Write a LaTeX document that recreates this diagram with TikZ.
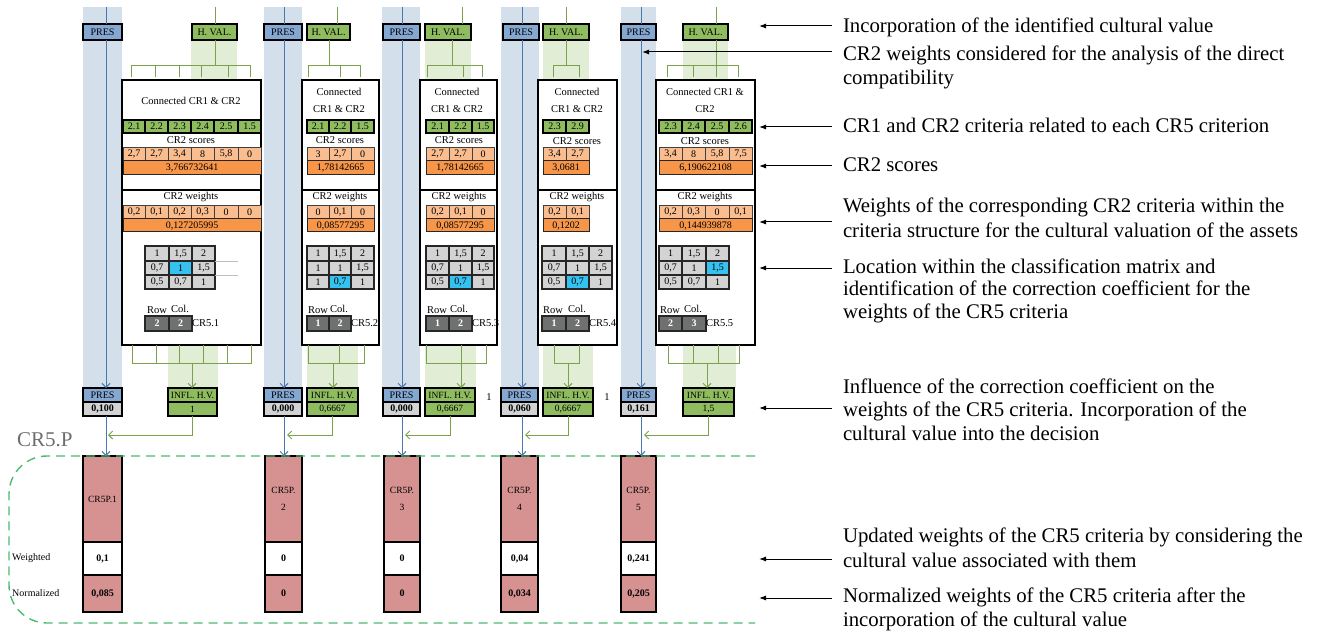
\documentclass[tikz,border=0pt]{standalone}
\usepackage{fontspec}
\setmainfont{Liberation Serif}
\usetikzlibrary{arrows.meta}
\definecolor{bandB}{HTML}{D3DFEA}
\definecolor{lineB}{HTML}{4A78AE}
\definecolor{presB}{HTML}{85A8D3}
\definecolor{gBox}{HTML}{8FBC5F}
\definecolor{gBand}{HTML}{E2EDD6}
\definecolor{gLine}{HTML}{7AA24C}
\definecolor{oLight}{HTML}{F9BD8F}
\definecolor{oDark}{HTML}{F79548}
\definecolor{mGray}{HTML}{D3D3D3}
\definecolor{mBlue}{HTML}{36C2F0}
\definecolor{dGray}{HTML}{6F7070}
\definecolor{cRed}{HTML}{D69191}
\definecolor{dashG}{HTML}{4DBA6E}
\definecolor{labGray}{HTML}{6E6E6E}
\definecolor{vGray}{HTML}{D3D3D3}
\tikzset{
 cellbase/.style={inner sep=0pt, outer sep=0pt, font=\fontsize{10}{12}\selectfont},
 txt/.style={inner sep=0pt, outer sep=0pt, font=\fontsize{10.5}{12.6}\selectfont},
 gcell/.style={cellbase, draw=black, line width=1.1pt, fill=gBox},
 ocell/.style={cellbase, draw=black!75, line width=0.8pt, fill=oLight},
 odcell/.style={cellbase, draw=black!85, line width=1pt, fill=oDark},
 mcell/.style={cellbase, draw=black!85, line width=1.1pt},
 dcell/.style={cellbase, draw=black!85, line width=1.1pt, fill=dGray, text=white, font=\fontsize{10}{12}\selectfont\bfseries},
 presbox/.style={cellbase, draw=black, line width=1.6pt, fill=presB},
 hvalbox/.style={cellbase, draw=black, line width=1.6pt, fill=gBox},
 inflbox/.style={cellbase, draw=black, line width=1.6pt, fill=gBox, font=\fontsize{9.5}{11}\selectfont},
 pvalbox/.style={cellbase, draw=black, line width=1.6pt, fill=vGray, font=\fontsize{10}{12}\selectfont\bfseries},
 mainbox/.style={draw=black, line width=1.8pt, fill=white, inner sep=0pt, outer sep=0pt},
 crtop/.style={cellbase, draw=black, line width=1.6pt, fill=cRed, align=center, font=\fontsize{9.5}{17}\selectfont},
 crval/.style={cellbase, draw=black, line width=1.6pt, fill=cRed, font=\fontsize{10}{12}\selectfont\bfseries},
 crwht/.style={crval, fill=white},
 bline/.style={draw=lineB, line width=1pt},
 barrow/.style={bline, -{Straight Barb[length=4pt,width=8pt]}},
 gline/.style={draw=gLine, line width=1pt},
 garrow/.style={gline, -{Straight Barb[length=4pt,width=8pt]}},
 karrow/.style={draw=black, line width=1pt, -{Latex[length=7pt,width=5pt]}},
 notetext/.style={font=\fontsize{20.8}{24.5}\selectfont, align=left, anchor=base west, inner xsep=11pt, inner ysep=0pt, outer sep=0pt},
 sidelabel/.style={inner sep=0pt, font=\fontsize{10}{12}\selectfont, anchor=west}
}
\newcommand\bx[7]{\node[inner sep=0pt, outer sep=0pt, minimum width={(#5-#3)*1pt}, minimum height={(#6-#4)*1pt}, #2] (#1) at ({(#3+#5)/2},{(#4+#6)/2}) {#7};}
\newcommand\crow[5]{\foreach \xa/\xb/\tx [count=\ci] in {#5}{\bx{#1\ci}{#2}{\xa}{#3}{\xb}{#4}{\tx}}}
\newcommand\mrow[4]{\foreach \xa/\xb/\tx/\st [count=\ci] in {#4}{\bx{#1\ci}{mcell,fill=\st}{\xa}{#2}{\xb}{#3}{\tx}}}
\newcommand\tbr[3]{\draw[gline] (#1,77) -- (#1,66) -- (#2,66) -- (#2,77); \foreach \x in {#3} {\draw[gline] (\x,66) -- (\x,77);}}
\newcommand\bbr[3]{\draw[gline] (#1,345) -- (#1,363) -- (#2,363) -- (#2,345); \foreach \x in {#3} {\draw[gline] (\x,345) -- (\x,363);}}
\begin{document}
\begin{tikzpicture}[x=1pt,y=-1pt]
\useasboundingbox (0,0) rectangle (1325,631);
% ---------- background bands
\fill[bandB] (83,7) rectangle (122,388);
\fill[bandB] (264,7) rectangle (302,388);
\fill[bandB] (382,7) rectangle (420,388);
\fill[bandB] (501,7) rectangle (539,388);
\fill[bandB] (621,7) rectangle (656,388);
\fill[gBand] (191,40) rectangle (237,80);
\fill[gBand] (425,40) rectangle (471,80);
\fill[gBand] (543,40) rectangle (589,80);
\fill[gBand] (683,40) rectangle (728,80);
\fill[gBand] (168,345) rectangle (218,388);
\fill[gBand] (307,345) rectangle (358,388);
\fill[gBand] (425,345) rectangle (476,388);
\fill[gBand] (543,345) rectangle (593,388);
\fill[gBand] (683,345) rectangle (736,388);
% ---------- coordinates
\coordinate (bx1) at (106,7); \coordinate (bx2) at (284,7); \coordinate (bx3) at (402,7);
\coordinate (bx4) at (522,7); \coordinate (bx5) at (641,7);
\coordinate (gt1) at (215,7); \coordinate (gt2) at (337,7); \coordinate (gt3) at (462,7);
\coordinate (gt4) at (566,7); \coordinate (gt5) at (716,7);
\coordinate (gu1) at (215,66); \coordinate (gu2) at (329,66); \coordinate (gu3) at (452,66);
\coordinate (gu4) at (566,66); \coordinate (gu5) at (716,66);
\coordinate (gb1) at (192,363); \coordinate (gb2) at (333,363); \coordinate (gb3) at (461,363);
\coordinate (gb4) at (568,363); \coordinate (gb5) at (707,363);
\coordinate (gm1) at (108,435); \coordinate (gm2) at (287,435); \coordinate (gm3) at (405,435);
\coordinate (gm4) at (525,435); \coordinate (gm5) at (644,435);
\coordinate (yd) at (0,190);
% ---------- top boxes
\bx{pt1}{presbox}{83}{24}{122}{40}{PRES}
\bx{hv1}{hvalbox}{192}{24}{237}{40}{H. VAL.}
\bx{pt2}{presbox}{264}{24}{302}{40}{PRES}
\bx{hv2}{hvalbox}{307}{24}{350}{40}{H. VAL.}
\bx{pt3}{presbox}{383}{24}{420}{40}{PRES}
\bx{hv3}{hvalbox}{425}{24}{471}{40}{H. VAL.}
\bx{pt4}{presbox}{503}{24}{539}{40}{PRES}
\bx{hv4}{hvalbox}{543}{24}{589}{40}{H. VAL.}
\bx{pt5}{presbox}{621}{24}{656}{40}{PRES}
\bx{hv5}{hvalbox}{683}{24}{728}{40}{H. VAL.}
% ---------- bottom boxes
\bx{pb1}{presbox}{83}{388}{122}{402}{PRES}   \bx{pv1}{pvalbox}{83}{402}{122}{416}{0,100}
\bx{il1}{inflbox}{168}{388}{217}{402}{INFL. H.V.} \bx{iv1}{inflbox}{168}{402}{217}{416}{1}
\bx{pb2}{presbox}{264}{388}{302}{402}{PRES}  \bx{pv2}{pvalbox}{264}{402}{302}{416}{0,000}
\bx{il2}{inflbox}{307}{388}{358}{402}{INFL. H.V.} \bx{iv2}{inflbox}{307}{402}{358}{416}{0,6667}
\bx{pb3}{presbox}{383}{388}{420}{402}{PRES}  \bx{pv3}{pvalbox}{383}{402}{420}{416}{0,000}
\bx{il3}{inflbox}{425}{388}{475}{402}{INFL. H.V.} \bx{iv3}{inflbox}{425}{402}{475}{416}{0,6667}
\bx{pb4}{presbox}{501}{388}{538}{402}{PRES}  \bx{pv4}{pvalbox}{501}{402}{538}{416}{0,060}
\bx{il4}{inflbox}{543}{388}{593}{402}{INFL. H.V.} \bx{iv4}{inflbox}{543}{402}{593}{416}{0,6667}
\bx{pb5}{presbox}{621}{388}{656}{402}{PRES}  \bx{pv5}{pvalbox}{621}{402}{656}{416}{0,161}
\bx{il5}{inflbox}{683}{388}{734}{402}{INFL. H.V.} \bx{iv5}{inflbox}{683}{402}{734}{416}{1,5}
\node[txt] (one3) at (489,397) {1};
\node[txt] (one4) at (607,397) {1};
% ---------- main boxes
\bx{mb1}{mainbox}{122}{80}{261}{345}{}
\bx{mb2}{mainbox}{302}{80}{379}{345}{}
\bx{mb3}{mainbox}{420}{80}{497}{345}{}
\bx{mb4}{mainbox}{538}{80}{617}{345}{}
\bx{mb5}{mainbox}{656}{80}{755}{345}{}
\foreach \m in {1,...,5} {\draw[line width=1.8pt] (mb\m.west |- yd) -- (mb\m.east |- yd);}
% column 1
\node[txt] (cn1) at (191,101) {Connected CR1 \& CR2};
\crow{g1-}{gcell}{120}{133}{123/145/2.1,145/168/2.2,168/191/2.3,191/214/2.4,214/238/2.5,238/261/1.5}
\node[txt] (cs1) at (191,140) {CR2 scores};
\crow{s1-}{ocell}{147}{161}{123/145/{2,7},145/168/{2,7},168/191/{3,4},191/214/8,214/238/{5,8},238/261/0}
\bx{S1}{odcell}{123}{161}{261}{175}{3,766732641}
\node[txt] (cw1) at (191,197) {CR2 weights};
\crow{w1-}{ocell}{205}{219}{123/145/{0,2},145/168/{0,1},168/191/{0,2},191/214/{0,3},214/238/0,238/261/0}
\bx{W1}{odcell}{123}{219}{261}{232}{0,127205995}
\mrow{m1a-}{246}{261}{145/169/1/mGray,169/192/{1,5}/mGray,192/215/2/mGray}
\mrow{m1b-}{261}{275}{145/169/{0,7}/mGray,169/192/1/mBlue,192/215/{1,5}/mGray}
\mrow{m1c-}{275}{289}{145/169/{0,5}/mGray,169/192/{0,7}/mGray,192/215/1/mGray}
\draw[black!25, line width=0.8pt] (m1b-3.north east) -- ++(23,0);
\draw[black!25, line width=0.8pt] (m1c-3.north east) -- ++(23,0);
\node[txt] (rw1) at (157,310) {Row}; \node[txt] (cl1) at (180,309) {Col.};
\bx{r1}{dcell}{145}{316}{169}{331}{2} \bx{c1}{dcell}{169}{316}{192}{331}{2}
\node[txt, anchor=west] (k1) at (c1.east) {CR5.1};
% column 2
\node[txt, align=center, font=\fontsize{10.5}{17}\selectfont] (cn2) at (339,100) {Connected\\CR1 \& CR2};
\crow{g2-}{gcell}{120}{133}{307/329/2.1,329/351/2.2,351/374/1.5}
\node[txt] (cs2) at (340,140) {CR2 scores};
\crow{s2-}{ocell}{147}{161}{307/329/3,329/351/{2,7},351/374/0}
\bx{S2}{odcell}{307}{161}{374}{175}{1,78142665}
\node[txt] (cw2) at (340,197) {CR2 weights};
\crow{w2-}{ocell}{205}{219}{307/329/0,329/351/{0,1},351/374/0}
\bx{W2}{odcell}{307}{219}{374}{232}{0,08577295}
\mrow{m2a-}{246}{261}{307/329/1/mGray,329/351/{1,5}/mGray,351/374/2/mGray}
\mrow{m2b-}{261}{275}{307/329/1/mGray,329/351/1/mGray,351/374/{1,5}/mGray}
\mrow{m2c-}{275}{289}{307/329/1/mGray,329/351/{0,7}/mBlue,351/374/1/mGray}
\node[txt] (rw2) at (318,310) {Row}; \node[txt] (cl2) at (339,309) {Col.};
\bx{r2}{dcell}{307}{316}{329}{331}{1} \bx{c2}{dcell}{329}{316}{351}{331}{2}
\node[txt, anchor=west] (k2) at (c2.east) {CR5.2};
% column 3
\node[txt, align=center, font=\fontsize{10.5}{17}\selectfont] (cn3) at (457,100) {Connected\\CR1 \& CR2};
\crow{g3-}{gcell}{120}{133}{426/449/2.1,449/472/2.2,472/494/1.5}
\node[txt] (cs3) at (459,140) {CR2 scores};
\crow{s3-}{ocell}{147}{161}{426/449/{2,7},449/472/{2,7},472/494/0}
\bx{S3}{odcell}{426}{161}{494}{175}{1,78142665}
\node[txt] (cw3) at (459,197) {CR2 weights};
\crow{w3-}{ocell}{205}{219}{426/449/{0,2},449/472/{0,1},472/494/0}
\bx{W3}{odcell}{426}{219}{494}{232}{0,08577295}
\mrow{m3a-}{246}{261}{426/449/1/mGray,449/472/{1,5}/mGray,472/494/2/mGray}
\mrow{m3b-}{261}{275}{426/449/{0,7}/mGray,449/472/1/mGray,472/494/{1,5}/mGray}
\mrow{m3c-}{275}{289}{426/449/{0,5}/mGray,449/472/{0,7}/mBlue,472/494/1/mGray}
\node[txt] (rw3) at (437,310) {Row}; \node[txt] (cl3) at (459,309) {Col.};
\bx{r3}{dcell}{426}{316}{449}{331}{1} \bx{c3}{dcell}{449}{316}{472}{331}{2}
\node[txt, anchor=west] (k3) at (c3.east) {CR5.3};
% column 4
\node[txt, align=center, font=\fontsize{10.5}{17}\selectfont] (cn4) at (577,100) {Connected\\CR1 \& CR2};
\crow{g4-}{gcell}{120}{133}{543/566/2.3,566/589/2.9}
\node[txt] (cs4) at (577,141) {CR2 scores};
\crow{s4-}{ocell}{147}{161}{543/566/{3,4},566/589/{2,7}}
\bx{S4}{odcell}{543}{161}{589}{175}{3,0681}
\node[txt] (cw4) at (577,197) {CR2 weights};
\crow{w4-}{ocell}{205}{219}{543/566/{0,2},566/589/{0,1}}
\bx{W4}{odcell}{543}{219}{589}{232}{0,1202}
\mrow{m4a-}{246}{261}{542/566/1/mGray,566/589/{1,5}/mGray,589/612/2/mGray}
\mrow{m4b-}{261}{275}{542/566/{0,7}/mGray,566/589/1/mGray,589/612/{1,5}/mGray}
\mrow{m4c-}{275}{289}{542/566/{0,5}/mGray,566/589/{0,7}/mBlue,589/612/1/mGray}
\node[txt] (rw4) at (553,310) {Row}; \node[txt] (cl4) at (577,309) {Col.};
\bx{r4}{dcell}{542}{316}{566}{331}{1} \bx{c4}{dcell}{566}{316}{589}{331}{2}
\node[txt, anchor=west] (k4) at (c4.east) {CR5.4};
% column 5
\node[txt, align=center, font=\fontsize{10.5}{17}\selectfont] (cn5) at (705,100) {Connected CR1 \&\\CR2};
\crow{g5-}{gcell}{120}{133}{659/682/2.3,682/705/2.4,705/729/2.5,729/752/2.6}
\node[txt] (cs5) at (705,141) {CR2 scores};
\crow{s5-}{ocell}{147}{161}{659/682/{3,4},682/705/8,705/729/{5,8},729/752/{7,5}}
\bx{S5}{odcell}{659}{161}{752}{175}{6,190622108}
\node[txt] (cw5) at (705,197) {CR2 weights};
\crow{w5-}{ocell}{205}{219}{659/682/{0,2},682/705/{0,3},705/729/0,729/752/{0,1}}
\bx{W5}{odcell}{659}{219}{752}{232}{0,144939878}
\mrow{m5a-}{246}{261}{659/682/1/mGray,682/706/{1,5}/mGray,706/729/2/mGray}
\mrow{m5b-}{261}{275}{659/682/{0,7}/mGray,682/706/1/mGray,706/729/{1,5}/mBlue}
\mrow{m5c-}{275}{289}{659/682/{0,5}/mGray,682/706/{0,7}/mGray,706/729/1/mGray}
\node[txt] (rw5) at (670,310) {Row}; \node[txt] (cl5) at (693,309) {Col.};
\bx{r5}{dcell}{659}{316}{682}{331}{2} \bx{c5}{dcell}{682}{316}{706}{331}{3}
\node[txt, anchor=west] (k5) at (c5.east) {CR5.5};
% ---------- branches
\tbr{131}{250}{155,179,201,228}
\tbr{308}{360}{340}
\tbr{427}{482}{463}
\tbr{553}{579}{553}
\tbr{667}{738}{693,716}
\bbr{132}{251}{156,179,203,227}
\bbr{308}{364}{339}
\bbr{426}{486}{461}
\bbr{554}{579}{554}
\bbr{668}{739}{693,718}
% ---------- CR5P boxes
\bx{cr1}{crtop}{83}{456}{122}{542}{CR5P.1}
\bx{cw1}{crwht}{83}{542}{122}{575}{0,1}
\bx{cz1}{crval}{83}{575}{122}{612}{0,085}
\bx{cr2}{crtop}{265}{456}{302}{542}{CR5P.\\2}
\bx{cw2}{crwht}{265}{542}{302}{575}{0}
\bx{cz2}{crval}{265}{575}{302}{612}{0}
\bx{cr3}{crtop}{384}{456}{420}{542}{CR5P.\\3}
\bx{cw3}{crwht}{384}{542}{420}{575}{0}
\bx{cz3}{crval}{384}{575}{420}{612}{0}
\bx{cr4}{crtop}{501}{456}{538}{542}{CR5P.\\4}
\bx{cw4}{crwht}{501}{542}{538}{575}{0,04}
\bx{cz4}{crval}{501}{575}{538}{612}{0,034}
\bx{cr5}{crtop}{621}{456}{656}{542}{CR5P.\\5}
\bx{cw5}{crwht}{621}{542}{656}{575}{0,241}
\bx{cz5}{crval}{621}{575}{656}{612}{0,205}
% ---------- connectors
\foreach \i in {1,...,5} {
  \draw[bline] (bx\i) -- (pt\i.north -| bx\i);
  \draw[barrow] (pt\i.south -| bx\i) -- (pb\i.north -| bx\i);
  \draw[barrow] (pv\i.south -| bx\i) -- (cr\i.north -| bx\i);
  \draw[gline] (gt\i) -- (hv\i.north -| gt\i);
  \draw[gline] (hv\i.south -| gu\i) -- (gu\i);
  \draw[garrow] (gb\i) -- (il\i.north -| gb\i);
  \draw[garrow] (iv\i.south) |- (gm\i);
}
% ---------- CR5.P group
\node[inner sep=0pt, font=\fontsize{21}{24}\selectfont, text=labGray, anchor=west] (grp) at (17,440) {CR5.P};
\node[sidelabel] (lw) at (12,558) {Weighted};
\node[sidelabel] (ln) at (12,593) {Normalized};
\draw[dashG, line width=1.4pt, dash pattern=on 9pt off 6pt, rounded corners=38pt] (755,456) -- (9,456) -- (9,623) -- (755,623);
% ---------- annotations (anchor = baseline of the last line)
\coordinate (h1) at (759,26);  \coordinate (h2) at (642,52);  \coordinate (h3) at (759,127);
\coordinate (h4) at (759,166); \coordinate (h5) at (759,222); \coordinate (h6) at (759,268);
\coordinate (h7) at (759,408); \coordinate (h8) at (759,559); \coordinate (h9) at (759,598);
\node[notetext] (n1) at (832,33) {Incorporation of the identified cultural value};
\node[notetext] (n2) at (832,85) {CR2 weights considered for the analysis of the direct\\compatibility};
\node[notetext] (n3) at (832,133) {CR1 and CR2 criteria related to each CR5 criterion};
\node[notetext] (n4) at (832,172) {CR2 scores};
\node[notetext] (n5) at (832,237) {Weights of the corresponding CR2 criteria within the\\criteria structure for the cultural valuation of the assets};
\node[notetext, font=\fontsize{20.8}{22.5}\selectfont] (n6) at (832,318) {Location within the classification matrix and\\identification of the correction coefficient for the\\weights of the CR5 criteria};
\node[notetext, font=\fontsize{20.8}{23.5}\selectfont] (n7) at (832,440) {Influence of the correction coefficient on the\\weights of the CR5 criteria. Incorporation of the\\cultural value into the decision};
\node[notetext] (n8) at (832,567) {Updated weights of the CR5 criteria by considering the\\cultural value associated with them};
\node[notetext, font=\fontsize{20.8}{23.5}\selectfont] (n9) at (832,626) {Normalized weights of the CR5 criteria after the\\incorporation of the cultural value};
\foreach \i in {1,...,9} {\draw[karrow] (n\i.west |- h\i) -- (h\i);}
\end{tikzpicture}
\end{document}
